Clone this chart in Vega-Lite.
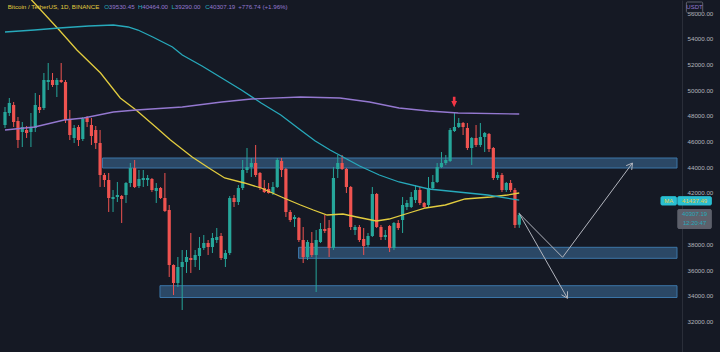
{
  "$schema": "https://vega.github.io/schema/vega-lite/v6.json",
  "width": 682,
  "height": 352,
  "autosize": {"type": "none"},
  "padding": {"left": 0, "top": 0, "right": 38, "bottom": 0},
  "background": "#151924",
  "config": {"view": {"stroke": null}, "font": "Liberation Sans"},
  "resolve": {"axis": {"y": "independent", "x": "independent"}},
  "datasets": {
    "candles": [
      {"i":0,"o":47291,"h":48692,"l":47058,"c":48303},
      {"i":1,"o":48225,"h":49393,"l":47992,"c":49004},
      {"i":2,"o":48848,"h":49081,"l":47136,"c":47525},
      {"i":3,"o":47603,"h":47914,"l":45502,"c":46124},
      {"i":4,"o":46747,"h":47525,"l":45579,"c":47136},
      {"i":5,"o":46902,"h":47214,"l":46280,"c":46669},
      {"i":6,"o":46747,"h":48225,"l":45579,"c":47058},
      {"i":7,"o":47058,"h":49782,"l":46747,"c":48848},
      {"i":8,"o":48692,"h":49626,"l":48225,"c":48459},
      {"i":9,"o":48614,"h":51338,"l":48459,"c":50793},
      {"i":10,"o":50638,"h":52116,"l":50015,"c":50793},
      {"i":11,"o":50793,"h":51338,"l":50249,"c":50404},
      {"i":12,"o":50404,"h":50949,"l":49470,"c":50793},
      {"i":13,"o":50793,"h":52116,"l":50560,"c":50638},
      {"i":14,"o":50638,"h":50793,"l":47447,"c":47681},
      {"i":15,"o":47681,"h":48459,"l":46124,"c":46513},
      {"i":16,"o":46280,"h":47291,"l":45891,"c":47058},
      {"i":17,"o":47136,"h":47291,"l":45657,"c":46124},
      {"i":18,"o":46202,"h":47914,"l":46046,"c":47758},
      {"i":19,"o":47836,"h":47992,"l":47136,"c":47525},
      {"i":20,"o":47291,"h":47836,"l":45735,"c":46435},
      {"i":21,"o":46902,"h":47214,"l":45424,"c":45891},
      {"i":22,"o":45891,"h":46902,"l":42467,"c":43400},
      {"i":23,"o":43400,"h":43556,"l":42467,"c":43011},
      {"i":24,"o":43011,"h":43556,"l":40521,"c":41611},
      {"i":25,"o":41533,"h":42233,"l":40521,"c":41688},
      {"i":26,"o":41688,"h":42856,"l":41299,"c":41844},
      {"i":27,"o":41766,"h":41844,"l":39665,"c":41533},
      {"i":28,"o":41844,"h":42856,"l":41222,"c":42778},
      {"i":29,"o":42778,"h":44334,"l":42467,"c":43945},
      {"i":30,"o":43945,"h":44568,"l":42389,"c":42467},
      {"i":31,"o":42544,"h":43790,"l":42389,"c":43089},
      {"i":32,"o":43011,"h":43790,"l":42467,"c":43167},
      {"i":33,"o":43011,"h":43400,"l":42544,"c":43167},
      {"i":34,"o":43089,"h":43167,"l":42078,"c":42233},
      {"i":35,"o":42155,"h":42778,"l":41222,"c":42389},
      {"i":36,"o":42389,"h":42467,"l":41533,"c":41611},
      {"i":37,"o":41611,"h":43556,"l":40521,"c":40599},
      {"i":38,"o":40677,"h":41066,"l":35463,"c":36397},
      {"i":39,"o":36397,"h":36450,"l":34062,"c":34996},
      {"i":40,"o":34996,"h":37019,"l":34685,"c":36241},
      {"i":41,"o":36241,"h":37564,"l":32895,"c":36630},
      {"i":42,"o":36630,"h":37564,"l":35774,"c":37019},
      {"i":43,"o":36941,"h":38887,"l":35774,"c":36786},
      {"i":44,"o":36786,"h":37564,"l":36241,"c":37175},
      {"i":45,"o":37097,"h":38576,"l":36008,"c":37720},
      {"i":46,"o":37720,"h":38731,"l":37564,"c":38109},
      {"i":47,"o":38109,"h":38342,"l":37175,"c":37798},
      {"i":48,"o":37798,"h":38887,"l":37331,"c":38498},
      {"i":49,"o":38342,"h":39276,"l":38109,"c":38576},
      {"i":50,"o":38653,"h":38887,"l":36786,"c":36941},
      {"i":51,"o":36864,"h":37564,"l":36241,"c":37331},
      {"i":52,"o":37331,"h":41766,"l":37175,"c":41611},
      {"i":53,"o":41611,"h":41844,"l":40910,"c":41299},
      {"i":54,"o":41299,"h":42622,"l":41066,"c":42389},
      {"i":55,"o":42389,"h":44568,"l":42233,"c":43790},
      {"i":56,"o":43790,"h":45502,"l":43556,"c":44023},
      {"i":57,"o":44023,"h":44723,"l":43245,"c":44334},
      {"i":58,"o":44334,"h":45735,"l":43245,"c":43400},
      {"i":59,"o":43556,"h":43634,"l":42233,"c":42389},
      {"i":60,"o":42389,"h":43011,"l":42000,"c":42078},
      {"i":61,"o":42311,"h":42778,"l":41950,"c":42000},
      {"i":62,"o":42000,"h":42856,"l":41844,"c":42467},
      {"i":63,"o":42467,"h":44723,"l":42389,"c":44568},
      {"i":64,"o":44490,"h":44723,"l":43245,"c":43790},
      {"i":65,"o":43867,"h":43945,"l":40132,"c":40521},
      {"i":66,"o":40521,"h":40677,"l":39743,"c":39899},
      {"i":67,"o":39976,"h":40288,"l":39354,"c":40132},
      {"i":68,"o":40054,"h":40130,"l":38187,"c":38342},
      {"i":69,"o":38342,"h":39354,"l":36552,"c":37019},
      {"i":70,"o":37019,"h":38342,"l":36786,"c":38187},
      {"i":71,"o":38109,"h":38965,"l":37019,"c":37175},
      {"i":72,"o":37175,"h":39120,"l":34296,"c":38342},
      {"i":73,"o":38187,"h":39665,"l":38109,"c":39198},
      {"i":74,"o":39198,"h":40288,"l":38887,"c":39043},
      {"i":75,"o":39276,"h":39899,"l":37019,"c":37720},
      {"i":76,"o":37720,"h":44023,"l":37564,"c":43167},
      {"i":77,"o":43867,"h":44957,"l":43167,"c":44334},
      {"i":78,"o":44334,"h":44957,"l":43790,"c":43867},
      {"i":79,"o":43867,"h":43945,"l":42000,"c":42467},
      {"i":80,"o":42467,"h":42544,"l":39120,"c":39354},
      {"i":81,"o":39120,"h":39509,"l":38731,"c":39354},
      {"i":82,"o":39354,"h":39509,"l":38187,"c":38342},
      {"i":83,"o":38420,"h":39276,"l":37175,"c":37875},
      {"i":84,"o":37953,"h":38887,"l":37798,"c":38653},
      {"i":85,"o":38653,"h":42467,"l":38576,"c":41922},
      {"i":86,"o":41922,"h":42000,"l":39276,"c":39354},
      {"i":87,"o":39354,"h":39509,"l":38342,"c":38576},
      {"i":88,"o":38576,"h":39120,"l":38342,"c":38731},
      {"i":89,"o":39432,"h":39509,"l":37408,"c":37720},
      {"i":90,"o":37720,"h":39743,"l":37564,"c":39665},
      {"i":91,"o":39665,"h":39899,"l":39120,"c":39276},
      {"i":92,"o":39899,"h":41688,"l":38887,"c":41066},
      {"i":93,"o":40910,"h":41455,"l":40677,"c":41222},
      {"i":94,"o":40910,"h":42078,"l":40833,"c":41688},
      {"i":95,"o":41455,"h":42622,"l":41222,"c":42233},
      {"i":96,"o":42233,"h":42467,"l":41066,"c":41222},
      {"i":97,"o":41222,"h":41299,"l":40833,"c":40910},
      {"i":98,"o":41066,"h":43245,"l":40910,"c":42389},
      {"i":99,"o":42389,"h":43400,"l":42233,"c":42856},
      {"i":100,"o":42856,"h":44334,"l":42778,"c":44023},
      {"i":101,"o":44023,"h":45190,"l":43945,"c":44334},
      {"i":102,"o":44334,"h":44957,"l":44179,"c":44568},
      {"i":103,"o":44490,"h":47058,"l":44412,"c":46902},
      {"i":104,"o":46825,"h":48225,"l":46747,"c":47136},
      {"i":105,"o":47136,"h":47836,"l":47058,"c":47447},
      {"i":106,"o":47447,"h":47525,"l":46513,"c":47136},
      {"i":107,"o":47058,"h":47447,"l":45346,"c":45502},
      {"i":108,"o":45502,"h":46358,"l":44179,"c":46280},
      {"i":109,"o":46280,"h":47291,"l":45579,"c":45735},
      {"i":110,"o":45735,"h":47447,"l":45579,"c":46358},
      {"i":111,"o":46358,"h":46747,"l":45190,"c":46669},
      {"i":112,"o":46591,"h":46669,"l":45190,"c":45424},
      {"i":113,"o":45502,"h":45579,"l":43011,"c":43167},
      {"i":114,"o":43167,"h":43634,"l":43011,"c":43400},
      {"i":115,"o":43400,"h":43556,"l":42078,"c":42233},
      {"i":116,"o":42233,"h":42856,"l":42078,"c":42778},
      {"i":117,"o":42778,"h":43011,"l":42078,"c":42233},
      {"i":118,"o":42233,"h":42389,"l":39276,"c":39509},
      {"i":119,"o":39530.45,"h":40464,"l":39290,"c":40307.19}
    ],
    "mas": [
      {"m":"ma50","i":3.42,"p":58031},{"m":"ma50","i":6.15,"p":57019},{"m":"ma50","i":12.54,"p":54684},{"m":"ma50","i":16.64,"p":53128},
      {"m":"ma50","i":22.11,"p":51338},{"m":"ma50","i":26.67,"p":49393},{"m":"ma50","i":30.32,"p":48459},{"m":"ma50","i":34.88,"p":47136},
      {"m":"ma50","i":38.29,"p":46124},{"m":"ma50","i":43.31,"p":44801},{"m":"ma50","i":47.18,"p":43945},{"m":"ma50","i":50.83,"p":43167},
      {"m":"ma50","i":55.39,"p":42778},{"m":"ma50","i":59.27,"p":42389},{"m":"ma50","i":64.51,"p":41611},{"m":"ma50","i":68.38,"p":41066},
      {"m":"ma50","i":71.35,"p":40677},{"m":"ma50","i":74.54,"p":40288},{"m":"ma50","i":78.19,"p":40366},{"m":"ma50","i":81.38,"p":40132},
      {"m":"ma50","i":85.94,"p":39820},{"m":"ma50","i":88.9,"p":39976},{"m":"ma50","i":93.46,"p":40443},{"m":"ma50","i":97.33,"p":40833},
      {"m":"ma50","i":101.89,"p":41066},{"m":"ma50","i":106.45,"p":41533},{"m":"ma50","i":112.38,"p":41688},{"m":"ma50","i":116.25,"p":41844},
      {"m":"ma50","i":118.99,"p":42000},
      {"m":"ma100","i":0,"p":54529},{"m":"ma100","i":6.84,"p":54684},{"m":"ma100","i":12.54,"p":54840},{"m":"ma100","i":19.38,"p":54996},
      {"m":"ma100","i":25.07,"p":55074},{"m":"ma100","i":28.49,"p":54918},{"m":"ma100","i":30.77,"p":54684},{"m":"ma100","i":34.19,"p":54140},
      {"m":"ma100","i":38.75,"p":53361},{"m":"ma100","i":41.03,"p":52739},{"m":"ma100","i":45.59,"p":51883},{"m":"ma100","i":50.15,"p":50949},
      {"m":"ma100","i":54.71,"p":50015},{"m":"ma100","i":59.27,"p":49004},{"m":"ma100","i":63.82,"p":48070},{"m":"ma100","i":68.38,"p":46902},
      {"m":"ma100","i":71.8,"p":46046},{"m":"ma100","i":75.22,"p":45346},{"m":"ma100","i":78.64,"p":44723},{"m":"ma100","i":82.06,"p":44101},
      {"m":"ma100","i":86.62,"p":43400},{"m":"ma100","i":91.18,"p":42856},{"m":"ma100","i":98.02,"p":42311},{"m":"ma100","i":104.86,"p":42078},
      {"m":"ma100","i":111.69,"p":41844},{"m":"ma100","i":118.99,"p":41437},
      {"m":"ma200","i":0,"p":46902},{"m":"ma200","i":6.84,"p":47136},{"m":"ma200","i":13.68,"p":47681},{"m":"ma200","i":18.24,"p":47836},
      {"m":"ma200","i":25.07,"p":48303},{"m":"ma200","i":30.32,"p":48459},{"m":"ma200","i":41.03,"p":48692},{"m":"ma200","i":50.15,"p":49081},
      {"m":"ma200","i":56.99,"p":49315},{"m":"ma200","i":68.38,"p":49470},{"m":"ma200","i":77.5,"p":49393},{"m":"ma200","i":84.34,"p":49081},
      {"m":"ma200","i":91.18,"p":48614},{"m":"ma200","i":98.02,"p":48381},{"m":"ma200","i":104.86,"p":48225},{"m":"ma200","i":118.99,"p":48148}
    ],
    "boxes": [
      {"i1":22.57,"i2":155.5,"p1":44723,"p2":43945},
      {"i1":67.93,"i2":155.5,"p1":37774,"p2":36918},
      {"i1":35.86,"i2":155.5,"p1":34786,"p2":33868}
    ],
    "paths": [
      {"s":"a","k":0,"i":118.99,"p":40400},{"s":"a","k":1,"i":129.02,"p":36996},{"s":"a","k":2,"i":145.2,"p":44334},
      {"s":"b","k":0,"i":118.99,"p":40400},{"s":"b","k":1,"i":130.16,"p":33805},
      {"s":"c","k":0,"i":143.74,"p":44124},{"s":"c","k":1,"i":145.2,"p":44334},{"s":"c","k":2,"i":145.02,"p":43790},
      {"s":"d","k":0,"i":130.16,"p":34350},{"s":"d","k":1,"i":130.16,"p":33805},{"s":"d","k":2,"i":128.77,"p":34078}
    ],
    "header": [
      {"i":0.62,"t":"Bitcoin / TetherUS, 1D, BINANCE","k":"name"},
      {"i":22.95,"t":"O","k":"key"},{"i":24.03,"t":"39530.45","k":"val"},
      {"i":30.77,"t":"H","k":"key"},{"i":31.75,"t":"40464.00","k":"val"},
      {"i":38.52,"t":"L","k":"key"},{"i":39.28,"t":"39290.00","k":"val"},
      {"i":46.34,"t":"C","k":"key"},{"i":47.32,"t":"40307.19","k":"val"},
      {"i":53.95,"t":"+776.74 (+1.96%)","k":"val"}
    ]
  },
  "layer": [
    {
      "data": {"name": "boxes"},
      "mark": {"type": "rect", "fill": "#4a8ac4", "fillOpacity": 0.42, "stroke": "#3c76a8", "strokeWidth": 1, "clip": true},
      "encoding": {
        "x": {"field": "i1", "type": "quantitative", "scale": {"domain": [0, 155.5], "nice": false, "zero": false}, "axis": null},
        "x2": {"field": "i2"},
        "y": {"field": "p1", "type": "quantitative", "scale": {"domain": [29626, 57019], "nice": false, "zero": false},
          "axis": {"orient": "right", "title": null, "values": [32000, 34000, 36000, 38000, 42000, 44000, 46000, 48000, 50000, 52000, 54000, 56000],
            "format": ".2f", "ticks": false, "grid": false, "domain": true, "domainColor": "#2a2e39", "labelAlign": "left", "labelPadding": 5,
            "labelFontSize": 6.2, "labelColor": "#b2b5be", "labelBaseline": "middle", "labelOverlap": false, "labelFlush": false}},
        "y2": {"field": "p2"}
      }
    },
    {
      "data": {"name": "candles"},
      "mark": {"type": "rule", "strokeWidth": 1, "clip": true},
      "encoding": {
        "x": {"field": "i", "type": "quantitative", "scale": {"domain": [0, 155.5], "nice": false, "zero": false}, "axis": null},
        "y": {"field": "l", "type": "quantitative", "scale": {"domain": [29626, 57019], "nice": false, "zero": false}, "axis": null},
        "y2": {"field": "h"},
        "color": {"condition": {"test": "datum.c >= datum.o", "value": "#26a69a"}, "value": "#ef5350"}
      }
    },
    {
      "data": {"name": "candles"},
      "mark": {"type": "bar", "size": 3.2, "clip": true},
      "encoding": {
        "x": {"field": "i", "type": "quantitative", "scale": {"domain": [0, 155.5], "nice": false, "zero": false}, "axis": null},
        "y": {"field": "o", "type": "quantitative", "scale": {"domain": [29626, 57019], "nice": false, "zero": false}, "axis": null},
        "y2": {"field": "c"},
        "color": {"condition": {"test": "datum.c >= datum.o", "value": "#26a69a"}, "value": "#ef5350"}
      }
    },
    {
      "data": {"name": "mas"},
      "mark": {"type": "line", "strokeWidth": 1.3, "clip": true},
      "encoding": {
        "x": {"field": "i", "type": "quantitative", "scale": {"domain": [0, 155.5], "nice": false, "zero": false}, "axis": null},
        "y": {"field": "p", "type": "quantitative", "scale": {"domain": [29626, 57019], "nice": false, "zero": false}, "axis": null},
        "color": {"field": "m", "type": "nominal", "scale": {"domain": ["ma50", "ma100", "ma200"], "range": ["#e2cc3f", "#27a9bb", "#9478d0"]}, "legend": null}
      }
    },
    {
      "data": {"name": "paths"},
      "mark": {"type": "line", "strokeWidth": 1, "color": "#b2b5be", "clip": true},
      "encoding": {
        "x": {"field": "i", "type": "quantitative", "scale": {"domain": [0, 155.5], "nice": false, "zero": false}, "axis": null},
        "y": {"field": "p", "type": "quantitative", "scale": {"domain": [29626, 57019], "nice": false, "zero": false}, "axis": null},
        "detail": {"field": "s"},
        "order": {"field": "k"}
      }
    },
    {
      "data": {"values": [{"i": 103.94, "p": 49081}]},
      "mark": {"type": "point", "filled": true, "color": "#f23645", "opacity": 1, "size": 110, "strokeWidth": 0,
        "shape": "M-0.25,-1L0.25,-1L0.25,-0.2L0.55,-0.2L0,1L-0.55,-0.2L-0.25,-0.2Z"},
      "encoding": {
        "x": {"field": "i", "type": "quantitative", "scale": {"domain": [0, 155.5], "nice": false, "zero": false}, "axis": null},
        "y": {"field": "p", "type": "quantitative", "scale": {"domain": [29626, 57019], "nice": false, "zero": false}, "axis": null}
      }
    },
    {
      "data": {"name": "header"},
      "mark": {"type": "text", "align": "left", "baseline": "middle", "fontSize": 6.2},
      "encoding": {
        "x": {"field": "i", "type": "quantitative", "scale": {"domain": [0, 155.5], "nice": false, "zero": false}, "axis": null},
        "y": {"datum": 56451, "type": "quantitative", "scale": {"domain": [29626, 57019], "nice": false, "zero": false}, "axis": null},
        "text": {"field": "t"},
        "color": {"field": "k", "type": "nominal", "scale": {"domain": ["name", "key", "val"], "range": ["#d1d4dc", "#b2b5be", "#26a69a"]}, "legend": null}
      }
    },
    {
      "data": {"values": [
        {"k": "ma", "i1": 151.8, "i2": 155.35, "p1": 41712, "p2": 41066},
        {"k": "ma", "i1": 155.69, "i2": 163.44, "p1": 41712, "p2": 41066},
        {"k": "price", "i1": 155.69, "i2": 163.44, "p1": 40716, "p2": 39237},
        {"k": "usdt", "i1": 157.67, "i2": 161.45, "p1": 56863, "p2": 56046}
      ]},
      "mark": {"type": "rect", "cornerRadius": 1},
      "encoding": {
        "x": {"field": "i1", "type": "quantitative", "scale": {"domain": [0, 155.5], "nice": false, "zero": false}, "axis": null},
        "x2": {"field": "i2"},
        "y": {"field": "p1", "type": "quantitative", "scale": {"domain": [29626, 57019], "nice": false, "zero": false}, "axis": null},
        "y2": {"field": "p2"},
        "fill": {"field": "k", "type": "nominal", "scale": {"domain": ["ma", "price", "usdt"], "range": ["#29bfd2", "#5d606b", "#151924"]}, "legend": null},
        "stroke": {"field": "k", "type": "nominal", "scale": {"domain": ["ma", "price", "usdt"], "range": ["#29bfd2", "#5d606b", "#5d606b"]}, "legend": null}
      }
    },
    {
      "data": {"values": [
        {"k": "dark", "i": 153.58, "p": 41393, "t": "MA"},
        {"k": "dark", "i": 159.57, "p": 41393, "t": "41437.49"},
        {"k": "light", "i": 159.57, "p": 40327, "t": "40307.19"},
        {"k": "light", "i": 159.57, "p": 39627, "t": "12:20:47"},
        {"k": "grey", "i": 159.56, "p": 56474, "t": "USDT"}
      ]},
      "mark": {"type": "text", "align": "center", "baseline": "middle", "fontSize": 6},
      "encoding": {
        "x": {"field": "i", "type": "quantitative", "scale": {"domain": [0, 155.5], "nice": false, "zero": false}, "axis": null},
        "y": {"field": "p", "type": "quantitative", "scale": {"domain": [29626, 57019], "nice": false, "zero": false}, "axis": null},
        "text": {"field": "t"},
        "color": {"field": "k", "type": "nominal", "scale": {"domain": ["dark", "light", "grey"], "range": ["#131722", "#e6e8ee", "#b2b5be"]}, "legend": null}
      }
    }
  ]
}
